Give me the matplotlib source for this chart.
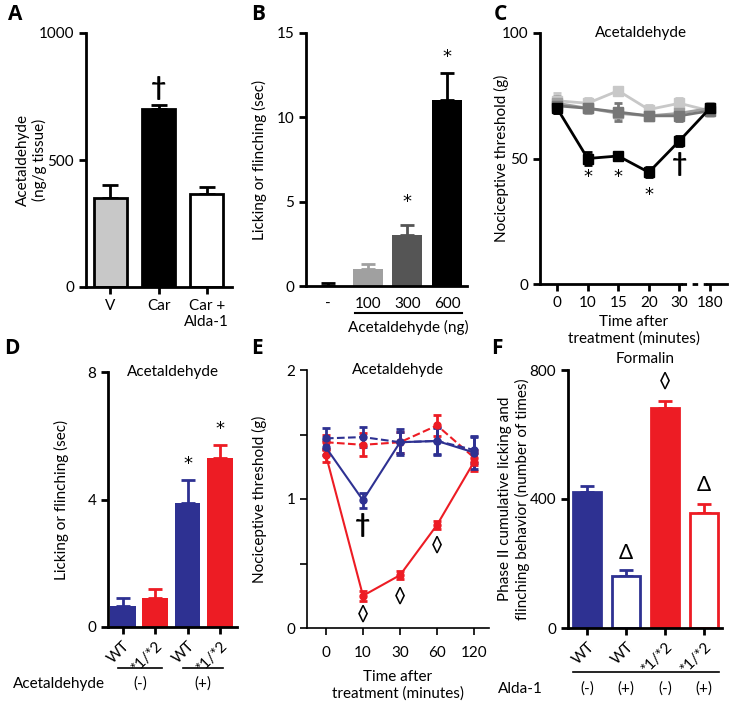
import matplotlib
matplotlib.use('Agg')
import matplotlib.pyplot as plt
import numpy as np

plt.rcParams['font.family'] = ['Lato', 'DejaVu Sans']
plt.rcParams['font.size'] = 11

W, H = 740, 707
BLUE = '#2e3192'
RED = '#ed1c24'
FS = 11

# A
a_labels = ['V', 'Car', 'Car +\nAlda-1']
a_vals = [350, 700, 368]
a_err = [50, 15, 25]

# B
b_labels = ['-', '100', '300', '600']
b_vals = [0, 1.0, 3.0, 11.0]
b_err = [0.2, 0.3, 0.6, 1.6]

# C
c_labels = ['0', '10', '15', '20', '30', '180']
c_light = [73, 72, 77, 69.5, 72, 69]
c_light_err = [3, 2, 1.5, 2, 2, 2]
c_mid = [72, 70, 68, 67, 68, 70]
c_mid_err = [3, 2, 2, 1.5, 2, 2]
c_dark = [71, 70, 68.5, 67, 67, 69]
c_dark_err = [3, 1.5, 3.5, 1.5, 2, 1.5]
c_black = [70, 50, 51, 44.5, 57, 70]
c_black_err = [2, 2.5, 1.2, 2, 2, 1.5]

# D
d_labels = ['WT', '*1/*2', 'WT', '*1/*2']
d_vals = [0.65, 0.9, 3.9, 5.3]
d_err = [0.25, 0.3, 0.7, 0.4]

# E
e_labels = ['0', '10', '30', '60', '120']
e_blue = [1.40, 0.99, 1.44, 1.45, 1.36]
e_blue_err = [0.06, 0.06, 0.1, 0.11, 0.13]
e_blue_d = [1.47, 1.48, 1.44, 1.45, 1.38]
e_blue_d_err = [0.08, 0.08, 0.08, 0.1, 0.1]
e_red = [1.34, 0.25, 0.41, 0.80, 1.29]
e_red_err = [0.05, 0.04, 0.03, 0.03, 0.07]
e_red_d = [1.44, 1.42, 1.44, 1.57, 1.32]
e_red_d_err = [0.06, 0.09, 0.08, 0.08, 0.06]

# F
f_labels = ['WT', 'WT', '*1/*2', '*1/*2']
f_alda = ['(-)', '(+)', '(-)', '(+)']
f_vals = [423, 160, 683, 356]
f_err = [18, 20, 22, 30]

fig = plt.figure(figsize=(W / 100, H / 100), dpi=100)


def px_axes(left, top, right, bottom):
    return fig.add_axes([left / W, 1 - bottom / H, (right - left) / W, (bottom - top) / H])


def style(ax, lw=2):
    for s in ['top', 'right']:
        ax.spines[s].set_visible(False)
    for s in ['left', 'bottom']:
        ax.spines[s].set_linewidth(lw)
    ax.tick_params(width=lw, length=5, labelsize=FS)


def fx(x):
    return x / W


def fy(y):
    return 1 - y / H


def star(ax, x, y):
    ax.text(x, y, '*', ha='center', va='center', fontsize=13, family='DejaVu Sans')


def dagger(ax, x, y):
    ax.text(x, y, '†', ha='center', va='center', fontsize=19, fontweight='bold')


def inner_title(ax, txt, x=0.5):
    ax.text(x, 1.0, txt, transform=ax.transAxes, ha='center', va='center', fontsize=FS)


# ---------- A ----------
ax = px_axes(86, 33, 232, 287)
style(ax)
xa = np.arange(len(a_vals))
ax.bar(xa, a_vals, width=0.68, color=['#c8c8c8', 'black', 'white'], edgecolor='black', linewidth=2, zorder=2)
ax.errorbar(xa, a_vals, yerr=[np.zeros(3), a_err], fmt='none', ecolor='black', elinewidth=2, capsize=6, capthick=2, zorder=1)
ax.set_xlim(-0.5, 2.52)
ax.set_ylim(0, 1000)
ax.spines['left'].set_bounds(0, 1000)
ax.set_yticks([0, 500, 1000])
ax.set_xticks(xa)
ax.set_xticklabels(a_labels)
ax.set_ylabel('Acetaldehyde\n(ng/g tissue)')
ax.yaxis.set_label_coords(-0.265, 0.5)
dagger(ax, 1, 785)

# ---------- B ----------
ax = px_axes(306, 33, 467, 286)
style(ax)
xb = np.arange(len(b_vals))
bcols = ['black', '#a0a0a0', '#555555', 'black']
ax.bar(xb, b_vals, width=0.75, color=bcols, zorder=2)
for i in range(4):
    ax.errorbar(xb[i], b_vals[i], yerr=[[0], [b_err[i]]], fmt='none', ecolor=bcols[i], elinewidth=2, capsize=5, capthick=2, zorder=1)
ax.set_xlim(-0.55, 3.5)
ax.set_ylim(0, 15)
ax.set_yticks([0, 5, 10, 15])
ax.set_xticks(xb)
ax.set_xticklabels(b_labels)
ax.tick_params(axis='x', length=0, pad=8)
ax.set_xticks([0], minor=True)
ax.tick_params(axis='x', which='minor', length=6, width=2)
ax.set_ylabel('Licking or flinching (sec)')
ax.yaxis.set_label_coords(-0.24, 0.5)
star(ax, 2, 5.0)
star(ax, 3, 13.6)
fig.add_artist(plt.Line2D([fx(355), fx(462)], [fy(313), fy(313)], color='black', lw=1.5))
fig.text(fx(408), fy(327), 'Acetaldehyde (ng)', ha='center', va='center', fontsize=FS)

# ---------- C ----------
ax = px_axes(540, 33, 727, 284)
style(ax)
xc = np.arange(len(c_labels))
for vals, err, col in [(c_light, c_light_err, '#c8c8c8'), (c_mid, c_mid_err, '#a0a0a0'),
                       (c_dark, c_dark_err, '#777777'), (c_black, c_black_err, 'black')]:
    ax.errorbar(xc, vals, yerr=err, color=col, marker='s', markersize=7, lw=2,
                elinewidth=2, capsize=3, capthick=2)
ax.set_xlim(-0.56, 5.56)
ax.set_ylim(0, 100)
ax.spines['left'].set_bounds(0, 100)
ax.spines['bottom'].set_visible(False)
tr = ax.get_xaxis_transform()
ax.plot([-0.56, 4.05], [0, 0], color='black', lw=2, transform=tr, clip_on=False)
ax.plot([4.05, 4.9], [0, 0], color='black', lw=2, ls=(0, (2, 2)), transform=tr, clip_on=False)
ax.plot([4.9, 5.56], [0, 0], color='black', lw=2, transform=tr, clip_on=False)
ax.set_yticks([0, 50, 100])
ax.set_xticks(xc)
ax.set_xticklabels(c_labels)
ax.set_ylabel('Nociceptive threshold (g)')
ax.yaxis.set_label_coords(-0.165, 0.5)
inner_title(ax, 'Acetaldehyde', x=0.54)
ax.set_xlabel('Time after\ntreatment (minutes)', labelpad=4)
for x, y in [(1, 42.5), (2, 42.5), (3, 35.5)]:
    star(ax, x, y)
dagger(ax, 4, 48)

# ---------- D ----------
ax = px_axes(108, 372, 237, 627)
style(ax)
xd = np.arange(len(d_vals))
dcols = [BLUE, RED, BLUE, RED]
ax.bar(xd, d_vals, width=0.8, color=dcols, zorder=2)
for i in range(4):
    ax.errorbar(xd[i], d_vals[i], yerr=[[0], [d_err[i]]], fmt='none', ecolor=dcols[i], elinewidth=2, capsize=5, capthick=2, zorder=1)
ax.set_xlim(-0.46, 3.53)
ax.set_ylim(0, 8)
ax.spines['left'].set_bounds(0, 8)
ax.set_yticks([0, 4, 8])
ax.set_xticks(xd)
ax.set_xticklabels(d_labels, rotation=45, ha='right', rotation_mode='anchor')
ax.set_ylabel('Licking or flinching (sec)')
ax.yaxis.set_label_coords(-0.30, 0.5)
inner_title(ax, 'Acetaldehyde')
star(ax, 2, 5.1)
star(ax, 3, 6.2)
for l, r in [(118, 162), (183, 223)]:
    fig.add_artist(plt.Line2D([fx(l), fx(r)], [fy(668), fy(668)], color='black', lw=1.2))
fig.text(fx(140), fy(684), '(-)', ha='center', va='center', fontsize=FS)
fig.text(fx(203), fy(684), '(+)', ha='center', va='center', fontsize=FS)
fig.text(fx(13), fy(684), 'Acetaldehyde', ha='left', va='center', fontsize=FS)

# ---------- E ----------
ax = px_axes(307, 370, 489, 628)
style(ax, lw=1.2)
xe = np.arange(len(e_labels))
for vals, err, col, ls in [(e_red_d, e_red_d_err, RED, '--'), (e_blue_d, e_blue_d_err, BLUE, '--'),
                           (e_red, e_red_err, RED, '-'), (e_blue, e_blue_err, BLUE, '-')]:
    ax.errorbar(xe, vals, yerr=err, color=col, marker='o', markersize=5, lw=1.5, ls=ls,
                elinewidth=2, capsize=3, capthick=2)
ax.set_xlim(-0.51, 4.4)
ax.set_ylim(0, 2)
ax.set_yticks([0, 0.5, 1, 1.5, 2])
ax.set_yticklabels(['0', '', '1', '', '2'])
ax.set_xticks(xe)
ax.set_xticklabels(e_labels)
ax.tick_params(axis='x', pad=8)
ax.set_ylabel('Nociceptive threshold (g)')
ax.yaxis.set_label_coords(-0.22, 0.5)
inner_title(ax, 'Acetaldehyde')
ax.set_xlabel('Time after\ntreatment (minutes)', labelpad=7)
dagger(ax, 1, 0.80)
for x, y in [(1, 0.10), (2, 0.245), (3, 0.64)]:
    ax.text(x, y, '◊', ha='center', va='center', fontsize=15)

# ---------- F ----------
ax = px_axes(568, 370, 722, 628)
style(ax)
xf = np.arange(len(f_vals))
fcol = [BLUE, BLUE, RED, RED]
ffill = [BLUE, 'white', RED, 'white']
ax.bar(xf, f_vals, width=0.72, color=ffill, edgecolor=fcol, linewidth=2, zorder=2)
for i in range(4):
    ax.errorbar(xf[i], f_vals[i], yerr=[[0], [f_err[i]]], fmt='none', ecolor=fcol[i], elinewidth=2, capsize=5, capthick=2, zorder=1)
ax.set_xlim(-0.49, 3.46)
ax.set_ylim(0, 800)
ax.spines['left'].set_bounds(0, 800)
ax.set_yticks([0, 400, 800])
ax.set_xticks(xf)
ax.set_xticklabels(f_labels, rotation=45, ha='right', rotation_mode='anchor')
ax.set_ylabel('Phase II cumulative licking and\nflinching behavior (number of times)')
ax.yaxis.set_label_coords(-0.25, 0.5)
ax.set_title('Formalin', fontsize=FS, pad=5)
ax.text(2, 764, '◊', ha='center', va='center', fontsize=15)
ax.text(1, 232, 'Δ', ha='center', va='center', fontsize=15)
ax.text(3, 444, 'Δ', ha='center', va='center', fontsize=15)
fig.add_artist(plt.Line2D([fx(573), fx(719)], [fy(672), fy(672)], color='black', lw=1.2))
fig.text(fx(520), fy(689), 'Alda-1', ha='center', va='center', fontsize=FS)
for i, lab in enumerate(f_alda):
    xp = 587 + i * 39
    fig.text(fx(xp), fy(689), lab, ha='center', va='center', fontsize=FS)

# panel letters
for lab, x, y in [('A', 15, 15), ('B', 258, 15), ('C', 500, 15), ('D', 12, 348), ('E', 257, 348), ('F', 497, 348)]:
    fig.text(fx(x), fy(y), lab, ha='center', va='center', fontsize=15, fontweight='bold', family='Open Sans')

fig.savefig('out.png', dpi=100)
